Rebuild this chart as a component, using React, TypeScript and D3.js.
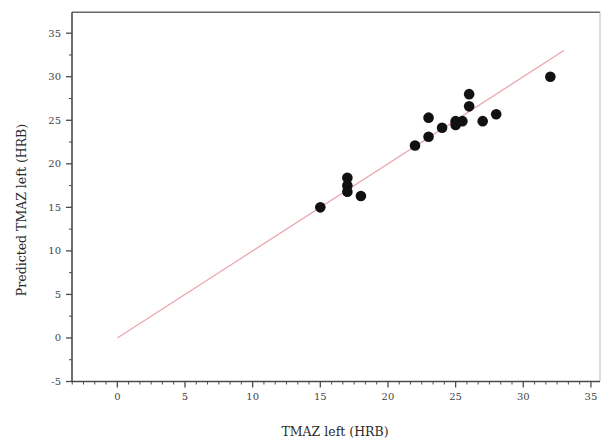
import React from "react";
import * as d3 from "d3";

const actual = [15, 17, 17, 17, 18, 22, 23, 23, 24, 25, 25, 25.5, 26, 26, 27, 28, 32];
const predicted = [15, 18.4, 17.5, 16.8, 16.3, 22.1, 23.1, 25.3, 24.15, 24.45, 24.9, 24.9, 26.6, 28.0, 24.9, 25.7, 30.0];
const xTicks = [0, 5, 10, 15, 20, 25, 30, 35];
const yTicks = [-5, 0, 5, 10, 15, 20, 25, 30, 35];
const fitLine = [0, 33];

const W = 603;
const H = 441;
const left = 72;
const right = 600;
const top = 12.3;
const bottom = 381.5;

export default function App() {
  const x = d3.scaleLinear().domain([-3.35, 35.67]).range([left, right]);
  const y = d3.scaleLinear().domain([-5, 37.4]).range([bottom, top]);

  const xMinor: number[] = [];
  for (let v = -5; v <= 36; v += 5 / 6) {
    const px = x(v);
    if (px >= left - 0.5 && px <= right && Math.abs(Math.round(v) - v) > 0.01) xMinor.push(v);
  }
  const yMinor: number[] = [];
  for (let v = -2.5; v <= 37; v += 5) yMinor.push(v);

  const line = d3.line<number>().x((d) => x(d)).y((d) => y(d));
  const axisColor = "#4a4a4a";
  const textColor = "#444";
  const font = "'DejaVu Serif', serif";

  return (
    <svg width={W} height={H} style={{ position: "absolute", left: 0, top: 0, background: "#fff" }}>
      {/* frame */}
      <line x1={left} x2={right} y1={top} y2={top} stroke="#666" strokeWidth={1.5} />
      <line x1={right} x2={right} y1={top} y2={bottom} stroke="#bbb" strokeWidth={1} />
      <line x1={left} x2={left} y1={top} y2={bottom} stroke={axisColor} strokeWidth={1.6} />
      <line x1={left} x2={right} y1={bottom} y2={bottom} stroke={axisColor} strokeWidth={1.6} />

      {/* x ticks */}
      {xTicks.map((t) => (
        <g key={"xt" + t}>
          <line x1={x(t)} x2={x(t)} y1={bottom} y2={bottom + 6} stroke={axisColor} strokeWidth={1.3} />
          <text x={x(t)} y={bottom + 18} textAnchor="middle" fontSize={10} fill={textColor} fontFamily={font}>
            {t}
          </text>
        </g>
      ))}
      {xMinor.map((t, i) => (
        <line key={"xm" + i} x1={x(t)} x2={x(t)} y1={bottom} y2={bottom + 3} stroke={axisColor} strokeWidth={1} />
      ))}

      {/* y ticks */}
      {yTicks.map((t) => (
        <g key={"yt" + t}>
          <line x1={left - 6} x2={left} y1={y(t)} y2={y(t)} stroke={axisColor} strokeWidth={1.3} />
          <text x={left - 11} y={y(t) + 3.5} textAnchor="end" fontSize={10} fill={textColor} fontFamily={font}>
            {t}
          </text>
        </g>
      ))}
      {yMinor.map((t, i) => (
        <line key={"ym" + i} x1={left - 3} x2={left} y1={y(t)} y2={y(t)} stroke={axisColor} strokeWidth={1} />
      ))}

      {/* fit line */}
      <path d={line(fitLine) || ""} stroke="#eaa4ac" strokeWidth={1.2} fill="none" />

      {/* points */}
      {actual.map((a, i) => (
        <circle key={"p" + i} cx={x(a)} cy={y(predicted[i])} r={5.3} fill="#111" />
      ))}

      {/* titles */}
      <text x={335} y={436} textAnchor="middle" fontSize={12.5} fill="#2a2a2a" fontFamily={font}>
        TMAZ left (HRB)
      </text>
      <text
        transform={`translate(26, 210) rotate(-90)`}
        textAnchor="middle"
        fontSize={12.5}
        fill="#2a2a2a"
        fontFamily={font}
      >
        Predicted TMAZ left (HRB)
      </text>
    </svg>
  );
}
